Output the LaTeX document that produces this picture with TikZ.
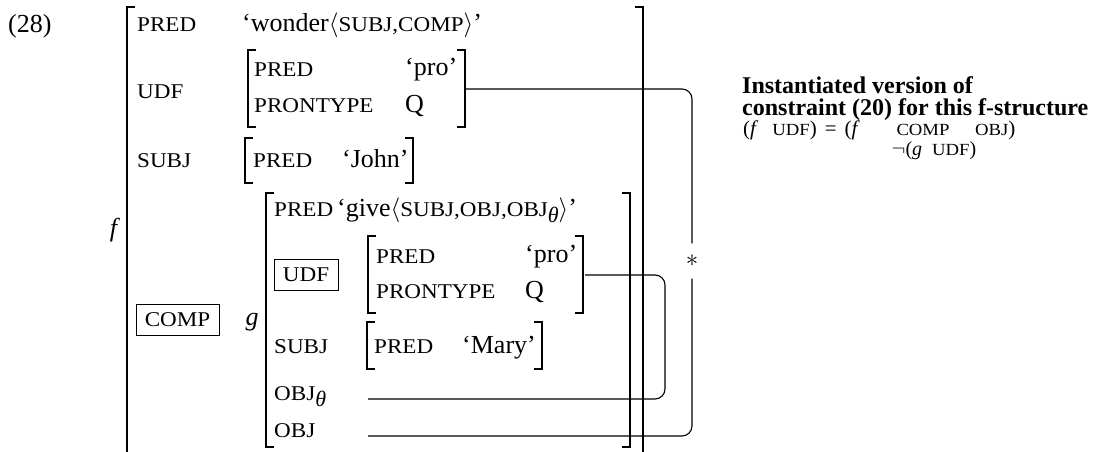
\documentclass[tikz,border=0pt]{standalone}
\usepackage{amsmath,amssymb}
\usepackage{fontspec}
\setmainfont{Liberation Serif}
\newfontfamily\attrfont[FakeStretch=1.1]{Liberation Serif}
\usetikzlibrary{calc}

\newcommand{\attr}[1]{{\attrfont\fontsize{21}{24}\selectfont #1}}
\newcommand{\sattr}[1]{{\attrfont\fontsize{17}{20}\selectfont #1}}
\newcommand{\val}[1]{{\fontsize{26}{30}\selectfont #1}}
\newcommand{\thsub}{\raisebox{-6pt}{\fontsize{22}{24}\selectfont\rmfamily\itshape θ}}
\newcommand{\openbr}[3]{\draw[brace] (#1+8,#2) -- (#1,#2) -- (#1,#3) -- (#1+8,#3);}
\newcommand{\closebr}[3]{\draw[brace] (#1-8,#2) -- (#1,#2) -- (#1,#3) -- (#1-8,#3);}

\tikzset{
        lab/.style={anchor=base west, inner sep=0pt},
        brace/.style={line width=1.3pt},
        link/.style={line width=1.1pt, rounded corners=10pt},
        boxed/.style={draw, line width=0.9pt, inner sep=0pt, minimum height=31pt},
}

\begin{document}
\begin{tikzpicture}[x=1pt, y=-1pt]
        \useasboundingbox (0,0) rectangle (1098,452);

        \node[lab] (num) at (8,33) {\val{(28)}};

        % outer f-structure
        \openbr{127}{7}{456}
        \closebr{643}{7}{456}
        \node[lab] (fpred) at (137,32) {\attr{PRED}};
        \node[lab] (fpredval) at (242,32) {\val{`wonder$\langle$\attr{SUBJ,COMP}$\rangle$'}};
        \node[lab] (fudf) at (137,99) {\attr{UDF}};
        \node[lab] (fsubj) at (137,167) {\attr{SUBJ}};
        \node[anchor=center] (f) at (115,230) {\val{\textit{f}}};
        \node[boxed, minimum width=83pt] (fcomp) at (177.5,320) {\attr{COMP}};

        % udf of f
        \openbr{248}{50}{127}
        \closebr{465}{50}{127}
        \node[lab] (upred) at (254,77) {\attr{PRED}};
        \node[lab] (upredval) at (405,76) {\val{`pro'}};
        \node[lab] (uprontype) at (254,112) {\attr{PRONTYPE}};
        \node[lab] (uq) at (405,112) {\val{Q}};
        \coordinate (udfend) at (466,89);

        % subj of f
        \openbr{245}{138}{183}
        \closebr{413}{138}{183}
        \node[lab] (spred) at (253,167) {\attr{PRED}};
        \node[lab] (spredval) at (342,167) {\val{`John'}};

        % comp = g
        \node[anchor=center] (g) at (252,322) {\val{\textit{g}}};
        \openbr{266}{193}{447}
        \closebr{630}{193}{447}
        \node[lab] (gpred) at (274,216) {\attr{PRED}};
        \node[lab] (gpredval) at (337,216) {\val{`give$\langle$\attr{SUBJ,OBJ,OBJ\thsub}$\rangle$'}};
        \node[boxed, minimum width=64pt] (gudf) at (306,274.5) {\attr{UDF}};
        \node[lab] (gsubj) at (274,353) {\attr{SUBJ}};
        \node[lab] (gobjth) at (274,400) {\attr{OBJ\thsub}};
        \node[lab] (gobj) at (274,437) {\attr{OBJ}};
        \coordinate (objthstart) at (368,399);
        \coordinate (objstart) at (368,436);

        % udf of g
        \openbr{368}{236}{313}
        \closebr{583}{236}{313}
        \node[lab] (vpred) at (376,263) {\attr{PRED}};
        \node[lab] (vpredval) at (525,262) {\val{`pro'}};
        \node[lab] (vprontype) at (376,298) {\attr{PRONTYPE}};
        \node[lab] (vq) at (525,298) {\val{Q}};
        \coordinate (gudfend) at (585,275);

        % subj of g
        \openbr{367}{322}{369}
        \closebr{542}{322}{369}
        \node[lab] (tpred) at (374,353) {\attr{PRED}};
        \node[lab] (tpredval) at (462,353) {\val{`Mary'}};

        % links
        \node[inner sep=0pt, minimum height=35pt] (star) at (692,261) {\fontsize{32}{34}\selectfont $\ast$};
        \draw[link] (udfend) -| (star.north);
        \draw[link] (star.south) |- (objstart);
        \draw[link] (gudfend) -| (665,399) -- (objthstart);

        % constraint text
        \node[lab] (head1) at (742,93) {\fontsize{24}{28}\selectfont\bfseries Instantiated version of};
        \node[lab] (head2) at (742,115) {\fontsize{24}{28}\selectfont\bfseries constraint (20) for this f-structure};
        \node[lab] (lhs) at (743,135) {\fontsize{21}{24}\selectfont (\textit{f}\hspace{14pt}\sattr{UDF})\hspace{8pt}=\hspace{8pt}(\textit{f}};
        \node[anchor=base] (ccomp) at (923,135) {\sattr{COMP}};
        \node[lab] (cobj) at (975,135) {\fontsize{21}{24}\selectfont\sattr{OBJ})};
        \node[anchor=base] (cneg) at (934,155) {\fontsize{20}{24}\selectfont $\neg$(\textit{g}\hspace{10pt}\sattr{UDF})};
\end{tikzpicture}
\end{document}
